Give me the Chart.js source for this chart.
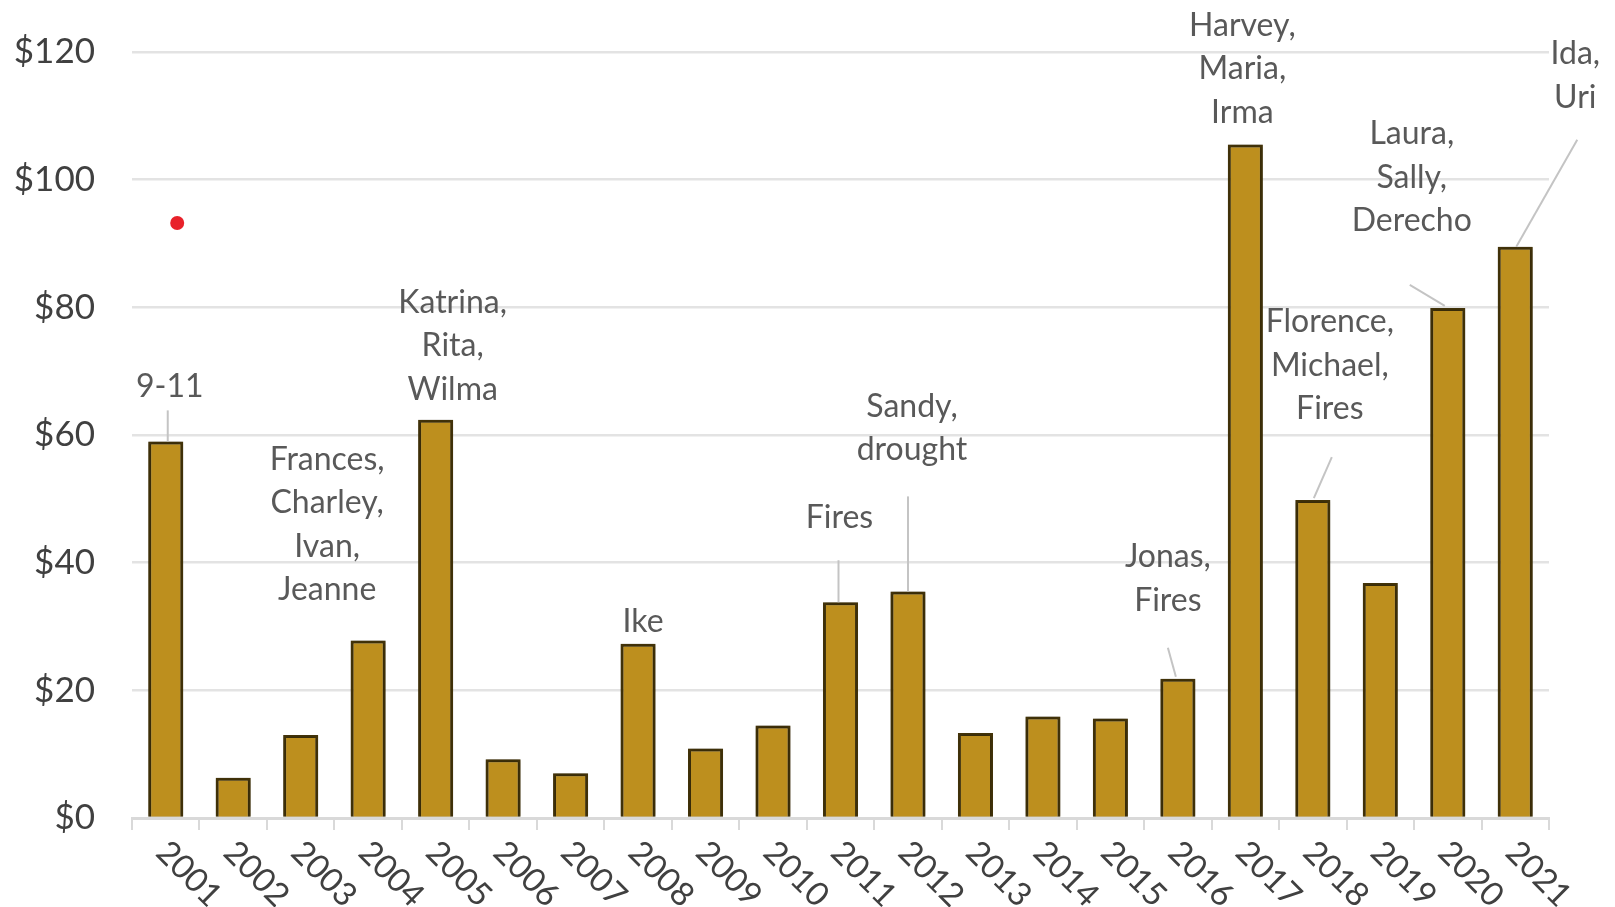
<!DOCTYPE html>
<html>
<head>
<meta charset="utf-8">
<script src="https://cdn.jsdelivr.net/npm/chart.js@4.4.1/dist/chart.umd.min.js"></script>
<style>
  html, body { margin: 0; padding: 0; background: #ffffff; }
  #c { display: block; }
</style>
</head>
<body>
<canvas id="c" width="1615" height="907"></canvas>
<script>
// Years on the category axis
const years = ['2001', '2002', '2003', '2004', '2005', '2006', '2007', '2008', '2009', '2010',
               '2011', '2012', '2013', '2014', '2015', '2016', '2017', '2018', '2019', '2020', '2021'];

// Insured catastrophe losses per year, billions of dollars
const losses = [59.0, 6.3, 13.0, 27.8, 62.4, 9.2, 7.0, 27.3, 10.9, 14.5,
                33.8, 35.5, 13.3, 15.9, 15.6, 21.8, 105.5, 49.8, 36.8, 79.9, 89.5];

// Main events behind each year's losses ('' = no callout)
const events = ['9-11', '', '', 'Frances,\nCharley,\nIvan,\nJeanne', 'Katrina,\nRita,\nWilma', '', '', 'Ike', '', '',
                'Fires', 'Sandy,\ndrought', '', '', '', 'Jonas,\nFires', 'Harvey,\nMaria,\nIrma',
                'Florence,\nMichael,\nFires', '', 'Laura,\nSally,\nDerecho', 'Ida,\nUri'];

// Value-axis tick labels
const yTicks = [0, 20, 40, 60, 80, 100, 120];

// Lone red marker (x as a fractional category index)
const markerX = [0.17];
const markerY = [93.2];

// Callout placement relative to the top centre of each bar (pixels):
// dx/dy = centre of the first text line, leader = [x1, y1, x2, y2]
const calloutLayout = {
  '2001': { dx: 4,   dy: -55,  leader: [2, 0, 2, -31] },
  '2004': { dx: -41, dy: -181 },
  '2005': { dx: 17,  dy: -117 },
  '2008': { dx: 5,   dy: -22 },
  '2011': { dx: -1,  dy: -85,  leader: [-2, 0, -2, -42] },
  '2012': { dx: 4,   dy: -185, leader: [0, 0, 0, -95] },
  '2016': { dx: -10, dy: -122, leader: [-2, -2, -10, -31] },
  '2017': { dx: -3,  dy: -119 },
  '2018': { dx: 17,  dy: -178, leader: [1, -2, 19, -43] },
  '2020': { dx: -36, dy: -174, leader: [-3, -2, -38, -23] },
  '2021': { dx: 60,  dy: -193, leader: [1, 0, 62, -107] }
};

const FONT = 'Lato, "Open Sans", sans-serif';
const CALLOUT_LINE_H = 43.5;

// Soft grey halo around the bars
const barShadow = {
  id: 'barShadow',
  beforeDatasetDraw(chart, args) {
    if (args.index !== 0) return;
    const ctx = chart.ctx;
    ctx.save();
    ctx.shadowColor = 'rgba(0,0,0,0.45)';
    ctx.shadowBlur = 4;
    ctx.shadowOffsetX = 0;
    ctx.shadowOffsetY = 0;
  },
  afterDatasetDraw(chart, args) {
    if (args.index !== 0) return;
    chart.ctx.restore();
  }
};

// Event callouts with leader lines
const callouts = {
  id: 'callouts',
  afterDatasetsDraw(chart) {
    const { ctx, scales: { x, y } } = chart;
    ctx.save();
    events.forEach((txt, i) => {
      if (!txt) return;
      const cfg = calloutLayout[years[i]];
      if (!cfg) return;
      const cx = x.getPixelForValue(i);
      const top = y.getPixelForValue(losses[i]);
      if (cfg.leader) {
        const [x1, y1, x2, y2] = cfg.leader;
        ctx.strokeStyle = '#c4c4c4';
        ctx.lineWidth = 2;
        ctx.beginPath();
        ctx.moveTo(cx + x1, top + y1);
        ctx.lineTo(cx + x2, top + y2);
        ctx.stroke();
      }
      ctx.fillStyle = '#595959';
      ctx.font = '32px ' + FONT;
      ctx.textAlign = 'center';
      ctx.textBaseline = 'middle';
      txt.split('\n').forEach((line, k) => {
        ctx.fillText(line, cx + cfg.dx, top + cfg.dy + k * CALLOUT_LINE_H);
      });
    });
    ctx.restore();
  }
};

// Year labels slanted downward to the right
const slantedYears = {
  id: 'slantedYears',
  afterDraw(chart) {
    const { ctx, scales: { x } } = chart;
    ctx.save();
    ctx.fillStyle = '#404040';
    ctx.font = '33px ' + FONT;
    ctx.textAlign = 'left';
    ctx.textBaseline = 'middle';
    years.forEach((label, i) => {
      const px = x.getPixelForValue(i);
      ctx.save();
      ctx.translate(px - 4, x.top + 29);
      ctx.rotate(Math.PI / 4);
      ctx.fillText(label, 0, 0);
      ctx.restore();
    });
    ctx.restore();
  }
};

new Chart(document.getElementById('c'), {
  type: 'bar',
  data: {
    labels: years,
    datasets: [
      {
        data: losses,
        backgroundColor: '#bd8f1e',
        borderColor: '#45350a',
        borderWidth: 3,
        borderSkipped: 'bottom',
        barPercentage: 0.52,
        categoryPercentage: 1.0
      },
      {
        type: 'line',
        parsing: false,
        normalized: true,
        data: markerX.map((v, i) => ({ x: v, y: markerY[i] })),
        showLine: false,
        pointStyle: 'circle',
        pointRadius: 7,
        pointBackgroundColor: '#e8212a',
        pointBorderWidth: 0
      }
    ]
  },
  options: {
    responsive: false,
    animation: false,
    devicePixelRatio: 1,
    layout: { padding: { top: 52, right: 66, left: 0, bottom: 0 } },
    plugins: {
      legend: { display: false },
      tooltip: { enabled: false },
      title: { display: false }
    },
    scales: {
      x: {
        type: 'category',
        offset: true,
        grid: {
          display: true,
          offset: true,
          drawOnChartArea: false,
          drawTicks: true,
          tickLength: 12,
          color: '#d9d9d9',
          lineWidth: 2
        },
        border: { display: true, color: '#d9d9d9', width: 3 },
        ticks: { display: false },
        afterFit(s) { s.height = 89; }
      },
      y: {
        min: 0,
        max: 120,
        afterBuildTicks(s) { s.ticks = yTicks.map(v => ({ value: v })); },
        ticks: {
          padding: 0,
          color: '#404040',
          font: { family: FONT, size: 35 },
          callback: v => '$' + v
        },
        grid: {
          color: '#e3e3e3',
          lineWidth: 2.5,
          drawTicks: true,
          tickLength: 37,
          tickColor: 'rgba(0,0,0,0)'
        },
        border: { display: false },
        afterFit(s) { s.width = 132; }
      }
    }
  },
  plugins: [barShadow, callouts, slantedYears]
});
</script>
</body>
</html>
